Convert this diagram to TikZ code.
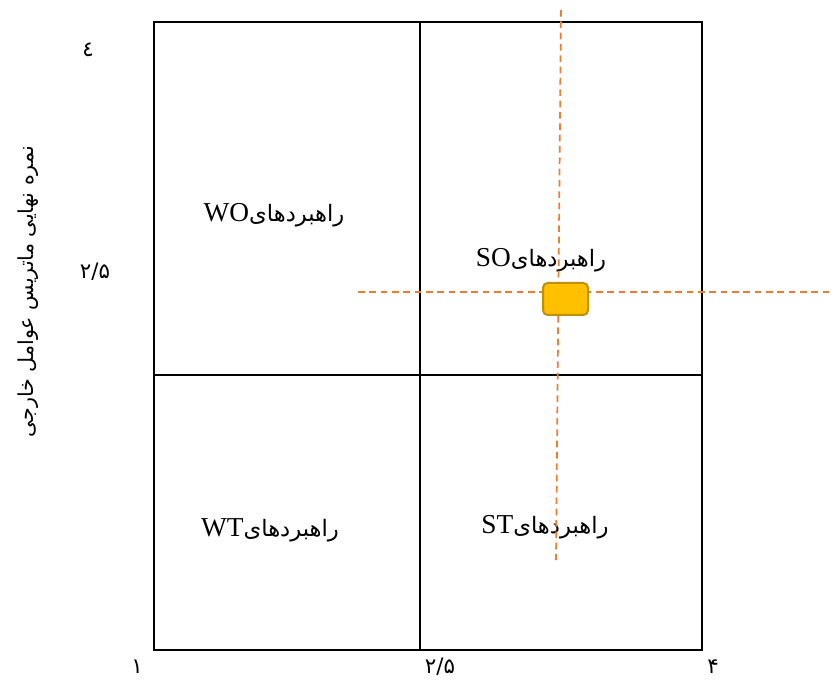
\documentclass[tikz,border=0pt]{standalone}
\usepackage{fontspec}
\setmainfont{Liberation Serif}
\newfontfamily\farsi[Script=Arabic]{DejaVu Sans}
\TeXXeTstate=1
\usetikzlibrary{positioning}
\definecolor{swotorange}{RGB}{237,125,49}
\definecolor{swotgold}{RGB}{255,192,0}
\definecolor{swotgolddark}{RGB}{191,144,0}

\begin{document}
\begin{tikzpicture}[x=0.75pt, y=-0.75pt,
    quad/.style={font=\fontsize{20.5}{22}\selectfont},
    tick/.style={font=\fontsize{16}{18}\farsi, inner sep=1pt},
    guide/.style={swotorange, line width=1.3pt, dash pattern=on 5pt off 3.5pt}]
\useasboundingbox (0,0) rectangle (833,681);
% quadrant frame
\draw[line width=1.3pt] (154,22) rectangle (702,650);
\draw[line width=1.3pt] (420,22) -- (420,650);
\draw[line width=1.3pt] (154,375) -- (702,375);
% strategy labels
\node[quad] (wo) at (274,215) {WO{\farsi\fontsize{17}{20}\selectfont\beginR راهبردهای\endR}};
\node[quad] (so) at (541,260) {SO{\farsi\fontsize{17}{20}\selectfont\beginR راهبردهای\endR}};
\node[quad] (wt) at (270,530) {WT{\farsi\fontsize{17}{20}\selectfont\beginR راهبردهای\endR}};
\node[quad] (st) at (545,527) {ST{\farsi\fontsize{17}{20}\selectfont\beginR راهبردهای\endR}};
% axis
\node[rotate=90, font=\fontsize{15.5}{18}\farsi] (ylab) at (28,292) {\beginR نمره نهایی ماتریس عوامل خارجی\endR};
\node[tick] (y4) at (88,50) {٤};
\node[tick] (y25) at (95,272) {۲/۵};
\node[tick] (x1) at (137,667) {۱};
\node[tick] (x25) at (440,667) {۲/۵};
\node[tick] (x4) at (713,667) {۴};
% position
\coordinate (vtop) at (561,10);
\coordinate (vbot) at (556,560);
\coordinate (hleft) at (358,292);
\coordinate (hright) at (830,292);
\draw[guide] (vtop) -- (vbot);
\draw[guide] (hleft) -- (hright);
\node[draw=swotgolddark, fill=swotgold, line width=1.5pt, rounded corners=3.5pt,
      minimum width=33.75pt, minimum height=24pt, inner sep=0pt] (pos) at (565.5,299) {};
\end{tikzpicture}
\end{document}
